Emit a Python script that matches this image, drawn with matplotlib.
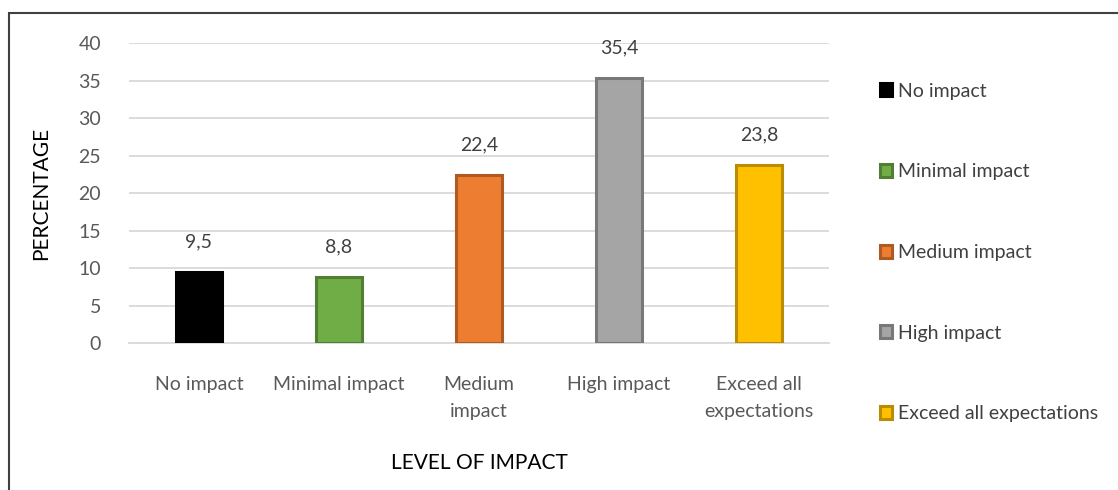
import matplotlib
matplotlib.use("Agg")
import matplotlib.pyplot as plt
from matplotlib.patches import Rectangle

plt.rcParams["font.family"] = ["Lato", "DejaVu Sans"]

# impact levels and share of respondents (%)
categories = ["No impact", "Minimal impact", "Medium impact", "High impact", "Exceed all expectations"]
tick_labels = ["No impact", "Minimal impact", "Medium\nimpact", "High impact", "Exceed all\nexpectations"]
values = [9.5, 8.8, 22.4, 35.4, 23.8]
value_labels = ["9,5", "8,8", "22,4", "35,4", "23,8"]

fills = ["#000000", "#70AD47", "#ED7D31", "#A5A5A5", "#FFC000"]
edges = ["#000000", "#507E32", "#AE5A21", "#787878", "#BC8C00"]

fig = plt.figure(figsize=(11.18, 4.9), dpi=100)
ax = fig.add_axes([129 / 1118, 0.30, 700 / 1118, 0.6122])

x = range(len(values))
bars = ax.bar(x, values, width=0.33, color=fills, edgecolor=edges, linewidth=2.2, zorder=3)

for xi, v, t in zip(x, values, value_labels):
    ax.annotate(t, (xi, v), xytext=(0, 15.5), textcoords="offset points",
                ha="center", va="bottom", fontsize=14, color="#404040")

ax.set_xlim(-0.5, 4.5)
ax.set_ylim(0, 40)
ax.set_yticks(range(0, 41, 5))
ax.set_xticks(list(x))
ax.set_xticklabels(tick_labels, linespacing=1.75)
ax.tick_params(axis="both", length=0, labelsize=14, labelcolor="#595959")
ax.tick_params(axis="y", pad=20)
ax.tick_params(axis="x", pad=23.5)
ax.grid(axis="y", color="#D9D9D9", lw=1.3, zorder=0)
for s in ["top", "right", "left"]:
    ax.spines[s].set_visible(False)
ax.spines["bottom"].set_color("#D9D9D9")
ax.spines["bottom"].set_linewidth(1.3)

ax.set_xlabel("LEVEL OF IMPACT", fontsize=15, color="black", labelpad=24)
ax.set_ylabel("PERCENTAGE", fontsize=15, color="black", labelpad=20)

fig.legend(handles=bars, labels=categories, loc="upper left",
           bbox_to_anchor=(872 / 1118, 1 - 75 / 490), frameon=False,
           fontsize=14, labelcolor="#404040", handlelength=0.65,
           handleheight=0.65, handletextpad=0.3, labelspacing=3.27,
           borderaxespad=0)

# outer frame, open on the right and bottom edges
fig.patches.append(Rectangle((9 / 1118, -0.1), 1.2, 1 - 13 / 490 + 0.1,
                             transform=fig.transFigure, fill=False,
                             edgecolor="#404040", lw=1.5))

fig.savefig("out.png", dpi=100)
